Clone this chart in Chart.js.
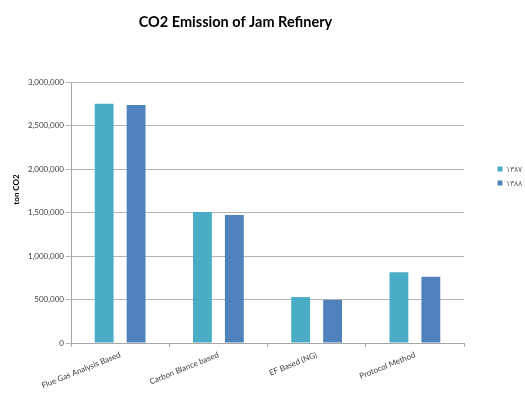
<!DOCTYPE html>
<html><head><meta charset="utf-8">
<script src="https://cdn.jsdelivr.net/npm/chart.js@4"></script>
<style>html,body{margin:0;padding:0;background:#fff;}#wrap{position:relative;width:525px;height:394px;}</style>
</head><body><div id="wrap"><canvas id="c" width="525" height="394"></canvas></div>
<script>
const categories = ["Flue Gas Analysis Based", "Carbon Blance based", "EF Based (NG)", "Protocol Method"];
const seriesNames = ["۱۳۸۷", "۱۳۸۸"];
const values1387 = [2750000, 1505000, 528000, 812000];
const values1388 = [2735000, 1470000, 495000, 762000];
const yTickValues = [0, 500000, 1000000, 1500000, 2000000, 2500000, 3000000];
const chartTitle = "CO2 Emission of Jam Refinery";
const yAxisTitle = "ton CO2";
const seriesColors = ["#4BACC6", "#4F81BD"];

const FONT = "Lato, 'Open Sans', sans-serif";

const decorPlugin = {
  id: 'decor',
  afterDraw(chart) {
    const ctx = chart.ctx;
    ctx.save();
    // title
    ctx.fillStyle = '#000';
    ctx.font = "bold 14.5px " + FONT;
    ctx.textAlign = 'center';
    ctx.textBaseline = 'middle';
    ctx.fillText(chartTitle, 235.5, 22);
    // y axis title
    ctx.save();
    ctx.translate(16, 189.5);
    ctx.rotate(-Math.PI / 2);
    ctx.font = "bold 8px " + FONT;
    ctx.fillText(yAxisTitle, 0, 0);
    ctx.restore();
    // legend
    ctx.textAlign = 'left';
    ctx.font = "8px " + FONT;
    chart.data.datasets.forEach((ds, i) => {
      const cy = 169 + i * 14;
      ctx.fillStyle = ds.backgroundColor;
      ctx.fillRect(497.5, cy - 2.5, 5, 5);
      ctx.fillStyle = '#666';
      ctx.fillText(ds.label, 506, cy);
    });
    ctx.restore();
  }
};

new Chart(document.getElementById('c'), {
  type: 'bar',
  data: {
    labels: categories,
    datasets: [
      { label: seriesNames[0], data: values1387, backgroundColor: seriesColors[0] },
      { label: seriesNames[1], data: values1388, backgroundColor: seriesColors[1] }
    ]
  },
  options: {
    responsive: false,
    devicePixelRatio: 1,
    animation: false,
    categoryPercentage: 0.65,
    barPercentage: 0.59,
    layout: { padding: { top: 82, right: 61, left: 0, bottom: 0 } },
    plugins: { legend: { display: false }, title: { display: false }, tooltip: { enabled: false } },
    scales: {
      y: {
        min: 0, max: 3000000,
        afterBuildTicks: s => { s.ticks = yTickValues.map(v => ({ value: v })); },
        afterFit: s => { s.width = 71; },
        ticks: {
          font: { family: FONT, size: 8 }, color: '#404040', padding: 2,
          callback: v => Number(v).toLocaleString('en-US')
        },
        grid: { color: '#b3b3b3', tickLength: 5, lineWidth: 1 },
        border: { color: '#a6a6a6' }
      },
      x: {
        afterFit: s => { s.height = 51; },
        grid: { display: true, drawOnChartArea: false, offset: true, tickLength: 4, color: '#a6a6a6' },
        border: { color: '#a6a6a6' },
        ticks: {
          autoSkip: false, minRotation: 22, maxRotation: 22, padding: 3,
          font: { family: FONT, size: 8 }, color: '#404040'
        }
      }
    }
  },
  plugins: [decorPlugin]
});
</script></body></html>
